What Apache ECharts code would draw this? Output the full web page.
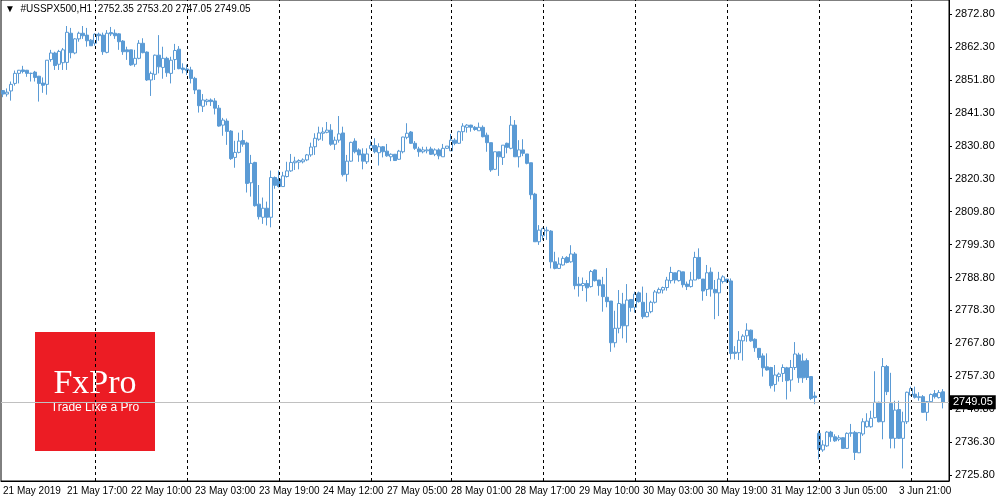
<!DOCTYPE html>
<html>
<head>
<meta charset="utf-8">
<script src="https://cdn.jsdelivr.net/npm/echarts@6/dist/echarts.min.js"></script>
<style>
    html, body { margin: 0; padding: 0; background: #fff; }
    #chart { width: 1000px; height: 500px; }
</style>
</head>
<body>
<div id="chart"></div>
<script>
// hourly bars, 21 May - 3 Jun 2019
var opens = [
    2848.4,2847.3,2848.3,2850.7,2853.9,2855.0,2854.9,2853.9,2854.3,2853.0,
    2850.8,2850.4,2858.3,2860.4,2856.8,2857.3,2857.4,2866.7,2860.4,2864.9,
    2866.7,2866.1,2864.5,2863.5,2866.4,2866.1,2860.6,2866.9,2866.7,2866.5,
    2864.2,2861.4,2861.4,2856.8,2858.7,2863.5,2860.7,2851.8,2853.6,2859.7,
    2855.8,2858.7,2853.9,2858.3,2861.6,2855.6,2855.3,2855.0,2852.3,2848.6,
    2843.4,2844.9,2845.4,2845.1,2842.8,2837.4,2838.7,2835.5,2827.1,2828.7,
    2832.5,2831.7,2819.0,2825.5,2812.2,2808.0,2810.9,2808.0,2820.7,2820.2,
    2817.8,2821.0,2822.8,2825.4,2825.6,2825.7,2826.3,2827.9,2830.5,2832.9,
    2834.8,2835.1,2835.8,2831.3,2832.6,2834.9,2821.7,2825.9,2832.3,2829.5,
    2828.2,2825.7,2829.9,2830.9,2828.6,2830.5,2829.1,2827.3,2828.1,2826.5,
    2828.9,2833.5,2835.2,2831.6,2829.8,2828.9,2829.2,2829.8,2828.1,2829.5,
    2827.3,2830.0,2829.2,2832.6,2831.6,2835.3,2836.7,2837.4,2836.7,2835.6,
    2836.7,2834.2,2831.8,2823.3,2828.9,2827.1,2831.6,2830.0,2837.4,2827.3,
    2829.5,2828.2,2825.4,2815.4,2800.2,2802.1,2803.7,2803.6,2793.8,2791.7,
    2792.8,2795.2,2793.8,2796.3,2786.7,2786.2,2786.9,2785.9,2791.2,2788.0,
    2786.5,2782.5,2781.3,2768.0,2772.6,2780.3,2773.4,2781.8,2779.3,2783.9,
    2780.9,2776.3,2777.9,2780.9,2783.9,2784.8,2785.6,2787.8,2790.3,2787.8,
    2790.6,2786.7,2785.9,2788.0,2795.2,2788.3,2785.0,2790.5,2785.0,2783.9,
    2787.5,2788.3,2787.7,2765.0,2764.8,2768.6,2770.2,2772.0,2769.1,2766.2,
    2763.8,2760.3,2760.1,2754.7,2757.2,2758.2,2760.0,2756.1,2760.1,2764.1,
    2762.2,2762.3,2757.2,2751.0,2739.1,2733.8,2735.1,2739.5,2738.0,2737.2,
    2737.7,2734.3,2739.1,2739.4,2732.9,2738.9,2741.2,2741.2,2744.1,2749.0,
    2742.8,2760.4,2748.6,2737.5,2746.7,2737.5,2742.8,2751.3,2751.6,2750.5,
    2750.8,2745.8,2749.2,2751.8,2750.5,2752.35
];
var closes = [
    2847.3,2847.9,2850.4,2853.9,2854.9,2854.5,2853.9,2853.9,2852.6,2850.7,
    2850.1,2858.1,2860.4,2856.4,2860.9,2861.4,2867.0,2860.5,2864.9,2866.7,
    2865.9,2864.3,2862.7,2866.4,2865.9,2860.8,2866.7,2866.5,2865.9,2864.0,
    2860.8,2860.8,2856.6,2858.7,2863.5,2860.5,2851.8,2853.9,2859.7,2856.0,
    2858.7,2854.1,2858.1,2861.2,2855.4,2855.1,2854.8,2852.3,2848.6,2843.6,
    2845.4,2845.4,2844.9,2842.8,2837.1,2839.0,2835.4,2826.7,2828.7,2832.3,
    2831.3,2818.8,2825.2,2811.7,2808.2,2810.9,2808.0,2820.7,2818.2,2817.8,
    2821.2,2822.8,2825.5,2825.9,2826.1,2826.3,2827.9,2830.4,2833.2,2834.9,
    2835.2,2835.8,2831.3,2832.6,2834.6,2821.6,2825.9,2831.9,2828.9,2827.9,
    2825.9,2828.2,2830.9,2828.9,2830.5,2828.9,2827.6,2828.1,2826.1,2829.1,
    2833.6,2834.8,2831.6,2830.0,2828.9,2829.5,2829.5,2828.1,2829.5,2827.6,
    2830.0,2830.7,2832.6,2831.6,2835.3,2837.1,2837.4,2836.7,2836.0,2836.7,
    2833.7,2831.8,2823.1,2828.9,2827.3,2831.0,2830.3,2837.4,2827.3,2829.5,
    2828.4,2825.2,2815.2,2800.2,2803.9,2804.4,2803.9,2793.8,2791.7,2793.1,
    2794.9,2793.6,2796.3,2786.2,2786.2,2786.9,2785.5,2790.7,2787.8,2786.2,
    2782.7,2781.1,2768.0,2772.6,2780.5,2773.4,2781.6,2779.2,2783.5,2781.1,
    2776.3,2777.7,2780.9,2784.2,2785.0,2785.6,2788.0,2790.4,2788.0,2790.9,
    2786.5,2785.9,2788.0,2795.2,2788.5,2784.5,2790.3,2785.1,2783.9,2788.3,
    2789.0,2787.5,2764.6,2764.6,2768.8,2770.1,2772.0,2768.6,2766.4,2763.3,
    2760.0,2759.3,2754.3,2757.7,2758.0,2760.1,2755.9,2760.1,2764.4,2756.8,
    2756.8,2756.9,2750.2,2750.5,2734.0,2735.4,2739.5,2738.0,2736.7,2737.7,
    2734.3,2739.1,2739.3,2733.0,2739.3,2742.8,2743.0,2743.9,2749.0,2742.8,
    2760.4,2752.4,2737.5,2746.5,2737.5,2742.8,2752.2,2753.4,2750.6,2750.8,
    2745.8,2749.2,2751.5,2750.8,2752.1,2749.05
];
var lows = [
    2846.3,2846.5,2845.2,2850.0,2850.7,2853.9,2852.8,2851.3,2851.3,2844.9,
    2847.7,2847.1,2857.6,2855.0,2855.0,2855.0,2855.0,2858.7,2860.0,2864.0,
    2864.9,2862.4,2862.7,2862.7,2864.3,2859.8,2860.3,2865.8,2864.9,2861.4,
    2859.8,2858.2,2856.3,2856.0,2858.4,2860.3,2851.5,2846.7,2851.8,2853.9,
    2852.2,2852.8,2850.7,2855.0,2855.2,2853.9,2853.4,2850.7,2847.3,2841.4,
    2841.6,2843.7,2843.5,2840.8,2836.9,2834.0,2831.1,2826.3,2823.8,2828.4,
    2830.5,2815.9,2814.6,2811.4,2807.3,2805.9,2805.4,2804.8,2817.1,2817.5,
    2817.8,2820.7,2822.5,2823.1,2823.3,2825.2,2825.9,2827.3,2827.9,2832.4,
    2832.4,2834.8,2830.8,2829.5,2831.8,2821.0,2819.4,2825.7,2828.4,2825.7,
    2823.3,2825.0,2829.5,2828.4,2824.5,2827.1,2827.3,2825.9,2826.1,2826.3,
    2828.4,2832.9,2831.4,2829.5,2827.3,2828.4,2828.4,2827.9,2827.5,2826.5,
    2827.3,2829.8,2829.2,2831.0,2831.4,2832.4,2835.0,2835.3,2835.6,2835.6,
    2833.5,2828.9,2822.5,2823.1,2821.2,2824.7,2828.4,2829.7,2827.3,2823.9,
    2827.5,2824.9,2813.7,2800.2,2799.2,2800.8,2800.8,2791.7,2791.4,2791.5,
    2792.6,2793.3,2793.5,2785.0,2782.7,2784.5,2781.1,2785.6,2787.5,2783.0,
    2777.9,2779.3,2765.1,2766.5,2771.0,2769.4,2768.0,2777.9,2777.6,2780.8,
    2775.6,2776.1,2777.4,2780.5,2783.7,2783.7,2784.6,2786.9,2786.9,2787.5,
    2785.6,2784.8,2785.6,2788.0,2788.2,2781.4,2782.9,2782.7,2775.5,2776.5,
    2786.9,2787.1,2762.7,2762.7,2762.5,2762.3,2768.3,2768.3,2765.1,2762.5,
    2757.2,2759.1,2753.4,2752.4,2755.6,2755.5,2749.9,2752.4,2759.3,2755.2,
    2755.2,2756.1,2749.7,2748.4,2730.8,2733.2,2734.8,2736.4,2736.4,2736.6,
    2734.3,2734.1,2738.0,2730.6,2732.8,2738.3,2740.9,2740.9,2743.9,2742.6,
    2737.2,2751.3,2734.3,2734.3,2737.3,2727.9,2742.1,2751.0,2750.2,2749.5,
    2745.7,2743.1,2749.0,2750.2,2750.2,2747.05
];
var highs = [
    2848.6,2849.1,2851.3,2854.8,2855.0,2856.3,2855.0,2854.1,2854.7,2853.1,
    2852.6,2858.1,2861.4,2860.8,2861.4,2862.0,2869.0,2868.4,2865.1,2867.2,
    2869.0,2868.4,2864.8,2866.7,2866.9,2866.9,2867.7,2868.7,2867.9,2866.7,
    2864.5,2862.4,2861.4,2861.4,2864.5,2865.1,2860.9,2854.5,2859.9,2866.1,
    2862.4,2859.2,2859.2,2863.3,2862.6,2857.1,2856.7,2856.0,2852.8,2848.6,
    2847.3,2845.8,2845.9,2846.0,2843.8,2839.7,2839.5,2835.8,2832.4,2835.0,
    2835.8,2832.1,2827.9,2825.7,2818.3,2814.3,2813.0,2822.9,2821.0,2822.9,
    2822.5,2825.7,2828.2,2827.3,2826.5,2826.8,2828.2,2831.8,2834.8,2836.9,
    2836.7,2838.4,2837.7,2833.7,2840.3,2836.9,2827.9,2832.1,2833.2,2830.0,
    2830.0,2830.0,2832.4,2833.2,2831.6,2830.7,2831.4,2828.4,2828.2,2829.5,
    2833.7,2838.0,2835.5,2832.3,2830.5,2830.5,2830.5,2830.5,2830.0,2830.0,
    2831.4,2830.7,2834.6,2833.2,2835.6,2838.0,2837.7,2837.5,2837.1,2838.2,
    2837.3,2835.0,2831.8,2828.9,2828.9,2831.0,2831.8,2840.3,2839.0,2832.6,
    2832.9,2828.2,2825.4,2815.8,2805.5,2804.7,2805.0,2803.9,2797.0,2795.2,
    2795.6,2795.6,2799.1,2796.9,2789.0,2788.8,2788.0,2791.2,2791.4,2788.0,
    2789.0,2791.8,2781.3,2778.2,2784.8,2783.9,2786.7,2781.8,2784.3,2784.3,
    2785.9,2783.9,2781.4,2784.8,2785.6,2785.9,2789.0,2792.2,2790.3,2791.2,
    2790.6,2787.5,2790.6,2797.0,2798.1,2788.3,2792.8,2792.0,2788.0,2790.6,
    2789.5,2788.3,2788.5,2766.9,2771.7,2770.7,2774.2,2772.2,2769.4,2766.2,
    2764.6,2764.6,2760.3,2760.9,2758.5,2761.1,2760.3,2762.5,2768.2,2764.8,
    2764.6,2763.0,2757.2,2752.4,2739.8,2736.9,2739.8,2739.9,2738.8,2738.5,
    2737.8,2739.4,2742.1,2739.9,2739.5,2743.9,2745.5,2746.3,2758.9,2749.2,
    2763.1,2760.9,2758.4,2749.5,2749.5,2746.0,2752.4,2754.0,2754.0,2752.2,
    2751.3,2749.4,2751.8,2752.9,2752.9,2753.2
];
var timeLabels = ['21 May 2019', '21 May 17:00', '22 May 10:00', '23 May 03:00', '23 May 19:00',
    '24 May 12:00', '27 May 05:00', '28 May 01:00', '28 May 17:00', '29 May 10:00',
    '30 May 03:00', '30 May 19:00', '31 May 12:00', '3 Jun 05:00', '3 Jun 21:00'];
var daySeparators = [23, 46, 69, 92, 112, 135, 158, 181, 204, 227];
var priceTicks = [2725.80, 2736.30, 2746.80, 2757.30, 2767.80, 2778.30, 2788.80, 2799.30,
    2809.80, 2820.30, 2830.80, 2841.30, 2851.80, 2862.30, 2872.80];
var lastPrice = 2749.05;

var blue = '#5b9bd5';
var font = 'Liberation Sans';

var categories = [];
var candles = [];
for (var i = 0; i < opens.length + 1; i++) {
    categories.push(i % 16 === 0 && timeLabels[i / 16] ? timeLabels[i / 16] : '');
}
for (var j = 0; j < opens.length; j++) {
    candles.push([opens[j], closes[j], lows[j], highs[j]]);
}

var lines = daySeparators.map(function (k) {
    return {xAxis: k, lineStyle: {color: '#000', type: [3, 3], width: 1}, label: {show: false}};
});
lines.push({
    yAxis: lastPrice,
    lineStyle: {color: '#c0c0c0', type: 'solid', width: 1},
    label: {
        show: true, position: 'end', formatter: lastPrice.toFixed(2),
        color: '#fff', backgroundColor: '#000', fontFamily: font, fontSize: 11,
        padding: [2, 3, 1, 3], distance: 1
    }
});

var chart = echarts.init(document.getElementById('chart'));
chart.setOption({
    animation: false,
    backgroundColor: '#fff',
    grid: {left: 1, right: 51, top: 0, bottom: 19, show: true, borderColor: '#000', borderWidth: 1},
    xAxis: {
        type: 'category',
        data: categories,
        boundaryGap: true,
        axisLine: {lineStyle: {color: '#000'}},
        axisTick: {show: false},
        axisLabel: {
            interval: function (idx) { return idx % 16 === 0; },
            hideOverlap: false, showMinLabel: true,
            align: 'left', color: '#000', fontFamily: font, fontSize: 10, margin: 5
        },
        splitLine: {show: false}
    },
    yAxis: {
        type: 'value',
        position: 'right',
        min: 2723.9,
        max: 2877.3,
        axisLine: {show: true, lineStyle: {color: '#000'}},
        axisTick: {show: true, length: 3, customValues: priceTicks, lineStyle: {color: '#000'}},
        axisLabel: {
            customValues: priceTicks, color: '#000', fontFamily: font, fontSize: 11, margin: 6,
            formatter: function (v) { return v.toFixed(2); }
        },
        splitLine: {show: false}
    },
    series: [{
        type: 'candlestick',
        data: candles,
        barWidth: 3,
        itemStyle: {color: '#fff', color0: blue, borderColor: blue, borderColor0: blue, borderWidth: 1},
        markLine: {symbol: 'none', silent: true, animation: false, data: lines}
    }],
    graphic: [
        {type: 'text', left: 5, top: 4,
            style: {text: '\u25BC  #USSPX500,H1  2752.35 2753.20 2747.05 2749.05', fill: '#000', font: '10px ' + font}},
        {type: 'rect', shape: {x: 35, y: 332, width: 120, height: 119}, style: {fill: '#ec1c24'}},
        {type: 'text', x: 95, y: 384,
            style: {text: 'FxPro', fill: '#fff', font: '34px "Liberation Serif"', align: 'center', verticalAlign: 'middle'}},
        {type: 'text', x: 95, y: 408,
            style: {text: 'Trade Like a Pro', fill: '#fff', font: '12px "Liberation Sans"', align: 'center', verticalAlign: 'middle'}}
    ]
});
</script>
</body>
</html>
